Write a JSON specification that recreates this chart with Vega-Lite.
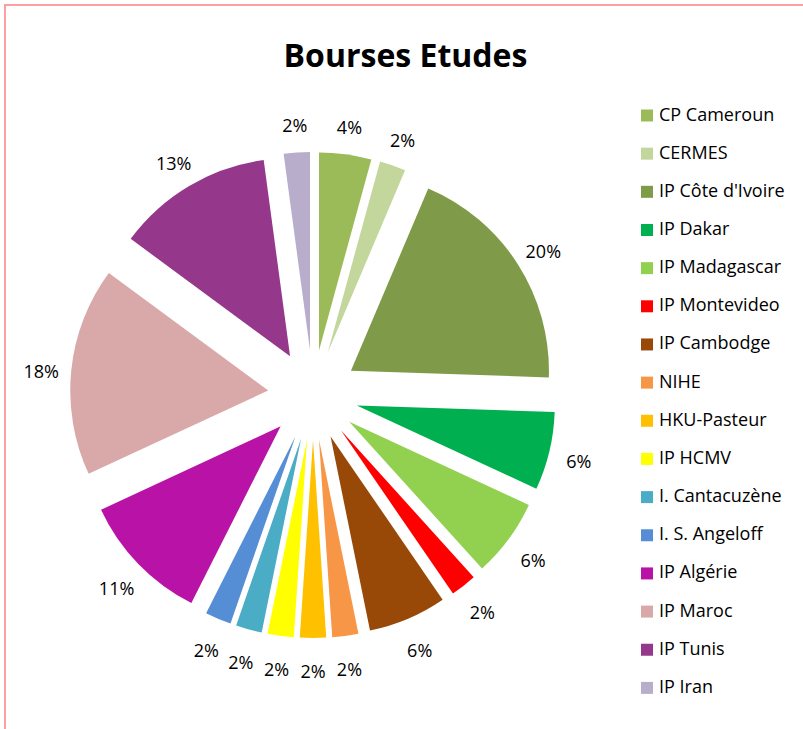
{
  "$schema": "https://vega.github.io/schema/vega-lite/v6.json",
  "autosize": {"type": "none"},
  "padding": {"left": 5, "top": 5, "right": -1, "bottom": -1},
  "width": 799,
  "height": 725,
  "background": "white",
  "title": {
    "text": "Bourses Etudes",
    "font": "Open Sans",
    "fontSize": 32,
    "fontWeight": "bold",
    "color": "#000000",
    "anchor": "middle",
    "frame": "group",
    "baseline": "alphabetic",
    "offset": -94,
    "dx": 1
  },
  "data": {
    "values": [
      {"name": "CP Cameroun", "value": 2, "label": "4%", "idx": 1},
      {"name": "CERMES", "value": 1, "label": "2%", "idx": 2},
      {"name": "IP Côte d'Ivoire", "value": 9, "label": "20%", "idx": 3},
      {"name": "IP Dakar", "value": 3, "label": "6%", "idx": 4},
      {"name": "IP Madagascar", "value": 3, "label": "6%", "idx": 5},
      {"name": "IP Montevideo", "value": 1, "label": "2%", "idx": 6},
      {"name": "IP Cambodge", "value": 3, "label": "6%", "idx": 7},
      {"name": "NIHE", "value": 1, "label": "2%", "idx": 8},
      {"name": "HKU-Pasteur", "value": 1, "label": "2%", "idx": 9},
      {"name": "IP HCMV", "value": 1, "label": "2%", "idx": 10},
      {"name": "I. Cantacuzène", "value": 1, "label": "2%", "idx": 11},
      {"name": "I. S. Angeloff", "value": 1, "label": "2%", "idx": 12},
      {"name": "IP Algérie", "value": 5, "label": "11%", "idx": 13},
      {"name": "IP Maroc", "value": 8, "label": "18%", "idx": 14},
      {"name": "IP Tunis", "value": 6, "label": "13%", "idx": 15},
      {"name": "IP Iran", "value": 1, "label": "2%", "idx": 16}
    ]
  },
  "transform": [
    {"window": [{"op": "sum", "field": "value", "as": "cum"}], "sort": [{"field": "idx"}], "frame": [null, 0]},
    {"joinaggregate": [{"op": "sum", "field": "value", "as": "total"}]},
    {"calculate": "(datum.cum - datum.value / 2) / datum.total * 2 * PI", "as": "mid"},
    {"calculate": "0.2273 * sin(datum.mid)", "as": "ex"},
    {"calculate": "0.2273 * cos(datum.mid)", "as": "ey"},
    {"calculate": "1.38 * sin(datum.mid)", "as": "lx"},
    {"calculate": "1.38 * cos(datum.mid)", "as": "ly"}
  ],
  "layer": [
    {
      "mark": {"type": "arc", "outerRadius": 198, "innerRadius": 0, "strokeWidth": 0},
      "encoding": {
        "x": {"field": "ex", "type": "quantitative", "axis": null, "scale": {"domain": [-1.5556, 2.4798], "nice": false, "zero": false}},
        "y": {"field": "ey", "type": "quantitative", "axis": null, "scale": {"domain": [-1.6919, 1.9697], "nice": false, "zero": false}},
        "theta": {"field": "value", "type": "quantitative", "stack": true},
        "order": {"field": "idx", "type": "quantitative"},
        "color": {
          "field": "name",
          "type": "nominal",
          "sort": null,
          "scale": {
            "domain": ["CP Cameroun", "CERMES", "IP Côte d'Ivoire", "IP Dakar", "IP Madagascar", "IP Montevideo", "IP Cambodge", "NIHE", "HKU-Pasteur", "IP HCMV", "I. Cantacuzène", "I. S. Angeloff", "IP Algérie", "IP Maroc", "IP Tunis", "IP Iran"],
            "range": ["#9BBB59", "#C3D69B", "#7F9A48", "#00B050", "#92D050", "#FF0000", "#984807", "#F79646", "#FFC000", "#FFFF00", "#4BACC6", "#558ED5", "#B812A6", "#D9A9A9", "#95378B", "#B8AECB"]
          },
          "legend": {
            "title": null,
            "orient": "none",
            "legendX": 633,
            "legendY": 101.5,
            "symbolType": "square",
            "symbolSize": 144,
            "symbolStrokeWidth": 0,
            "labelFont": "Open Sans",
            "labelFontSize": 18,
            "labelColor": "#000000",
            "labelOffset": 3,
            "rowPadding": 20.16,
            "padding": 0,
            "labelLimit": 200
          }
        }
      }
    },
    {
      "mark": {"type": "text", "font": "Open Sans", "fontSize": 18, "color": "#000000", "align": "center", "baseline": "middle", "dy": 5},
      "encoding": {
        "x": {"field": "lx", "type": "quantitative", "axis": null, "scale": {"domain": [-1.5556, 2.4798], "nice": false, "zero": false}},
        "y": {"field": "ly", "type": "quantitative", "axis": null, "scale": {"domain": [-1.6919, 1.9697], "nice": false, "zero": false}},
        "text": {"field": "label", "type": "nominal"}
      }
    }
  ],
  "config": {
    "view": {"stroke": "#FF9F9F", "strokeWidth": 2}
  }
}
